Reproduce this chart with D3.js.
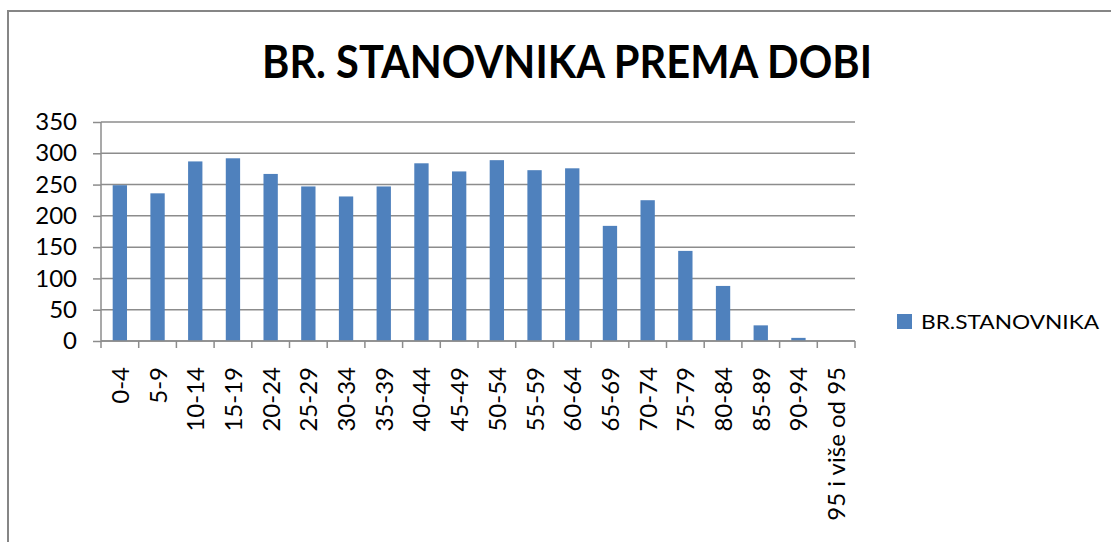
<!DOCTYPE html>
<html>
<head>
<meta charset="utf-8">
<script src="https://cdn.jsdelivr.net/npm/d3@7"></script>
<style>
  body { margin: 0; background: #fff; }
  svg { display: block; font-family: Lato, "Open Sans", sans-serif; }
</style>
</head>
<body>
<svg></svg>
<script>
// age groups and population counts
var ageGroups = ["0-4", "5-9", "10-14", "15-19", "20-24", "25-29", "30-34", "35-39",
    "40-44", "45-49", "50-54", "55-59", "60-64", "65-69", "70-74", "75-79",
    "80-84", "85-89", "90-94", "95 i više od 95"];
var population = [249, 236, 287, 292, 267, 247, 231, 247, 284, 271,
    289, 273, 276, 184, 225, 144, 88, 25, 5, 0];
var yTicks = [0, 50, 100, 150, 200, 250, 300, 350];
var seriesName = "BR.STANOVNIKA";
var chartTitle = "BR. STANOVNIKA PREMA DOBI";

var width = 1111;
var height = 542;
var plotLeft = 101, plotRight = 855, plotTop = 122, plotBottom = 341;
var barColor = "#4f81bd";
var gridColor = "#8c8c8c";

var svg = d3.select("svg")
    .attr("width", width)
    .attr("height", height);

// outer chart border (runs off the bottom and right edge)
svg.append("rect")
    .attr("x", 8)
    .attr("y", 11)
    .attr("width", 1110)
    .attr("height", 540)
    .attr("fill", "none")
    .attr("stroke", "#868686")
    .attr("stroke-width", 2);

var xScale = d3.scaleBand()
    .domain(ageGroups)
    .range([plotLeft, plotRight]);

var yScale = d3.scaleLinear()
    .domain([0, 350])
    .range([plotBottom, plotTop]);

// gridlines
svg.selectAll(".grid")
    .data(yTicks)
    .enter()
    .append("line")
    .attr("x1", plotLeft)
    .attr("x2", plotRight)
    .attr("y1", d => yScale(d))
    .attr("y2", d => yScale(d))
    .attr("stroke", gridColor)
    .attr("stroke-width", 1.5);

// y axis
var yAxis = d3.axisLeft(yScale)
    .tickValues(yTicks)
    .tickSize(8)
    .tickPadding(16);
var gy = svg.append("g")
    .attr("transform", "translate(" + plotLeft + ",0)")
    .call(yAxis);
gy.selectAll("line, path").attr("stroke", gridColor).attr("stroke-width", 1.5);
gy.select(".domain").attr("d", "M0," + plotTop + "V" + plotBottom);
gy.selectAll("text")
    .attr("font-size", 24)
    .attr("font-family", "Lato, sans-serif")
    .attr("fill", "#000");

// bars
var barW = xScale.bandwidth() * 0.38;
svg.selectAll(".bar")
    .data(population)
    .enter()
    .append("rect")
    .attr("x", (d, i) => xScale(ageGroups[i]) + (xScale.bandwidth() - barW) / 2)
    .attr("y", d => yScale(d))
    .attr("width", barW)
    .attr("height", d => plotBottom - yScale(d))
    .attr("fill", barColor);

// x axis: line plus ticks at category boundaries
svg.append("line")
    .attr("x1", plotLeft).attr("x2", plotRight)
    .attr("y1", plotBottom).attr("y2", plotBottom)
    .attr("stroke", gridColor).attr("stroke-width", 1.5);
var bounds = ageGroups.map(d => xScale(d)).concat([plotRight]);
svg.selectAll(".xtick")
    .data(bounds)
    .enter()
    .append("line")
    .attr("x1", d => d).attr("x2", d => d)
    .attr("y1", plotBottom).attr("y2", plotBottom + 7)
    .attr("stroke", gridColor).attr("stroke-width", 1.5);

svg.selectAll(".xlabel")
    .data(ageGroups)
    .enter()
    .append("text")
    .attr("transform", d => "translate(" + (xScale(d) + xScale.bandwidth() / 2 + 9) + "," + 367 + ") rotate(-90)")
    .attr("text-anchor", "end")
    .attr("font-size", 24)
    .attr("fill", "#000")
    .text(d => d);

// title
svg.append("text")
    .attr("x", 567)
    .attr("y", 78)
    .attr("text-anchor", "middle")
    .attr("font-size", 45)
    .attr("font-weight", "bold")
    .attr("textLength", 610)
    .attr("lengthAdjust", "spacingAndGlyphs")
    .attr("fill", "#000")
    .text(chartTitle);

// legend
svg.append("rect")
    .attr("x", 897)
    .attr("y", 314)
    .attr("width", 15)
    .attr("height", 15)
    .attr("fill", barColor);
svg.append("text")
    .attr("x", 921)
    .attr("y", 329)
    .attr("font-size", 20)
    .attr("textLength", 178)
    .attr("lengthAdjust", "spacingAndGlyphs")
    .attr("fill", "#000")
    .text(seriesName);
</script>
</body>
</html>
